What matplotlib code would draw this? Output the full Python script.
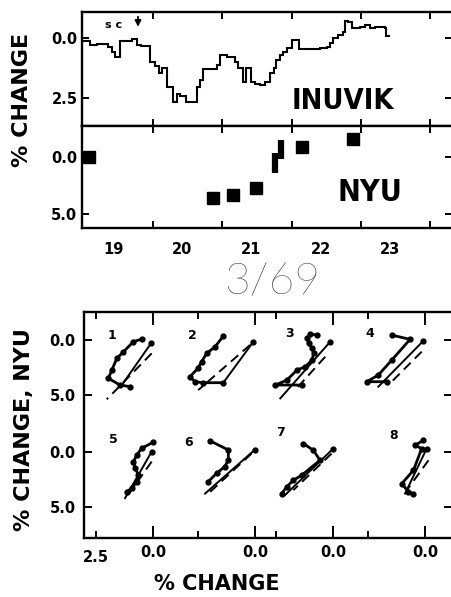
import numpy as np
import matplotlib.pyplot as plt
from matplotlib import font_manager as fm

# Inuvik neutron monitor, % change (decrease downward), step values between day edges
inuvik_edges = [18.97, 19.09, 19.18, 19.35, 19.41, 19.45, 19.52, 19.69, 19.76, 19.83,
                19.95, 20.03, 20.08, 20.12, 20.20, 20.29, 20.34, 20.39, 20.48, 20.63,
                20.67, 20.72, 20.92, 20.96, 21.06, 21.18, 21.23, 21.30, 21.34, 21.42,
                21.47, 21.54, 21.62, 21.69, 21.74, 21.78, 21.83, 21.88, 21.93, 22.01,
                22.11, 22.41, 22.51, 22.55, 22.60, 22.67, 22.75, 22.78, 22.82, 22.87,
                22.99, 23.06, 23.13, 23.21, 23.35, 23.37, 23.42]
inuvik_change = [0.12, 0.29, 0.26, 0.36, 0.57, 0.78, 0.12, 0.05, 0.29, 0.32,
                 1.00, 1.15, 1.47, 1.27, 2.03, 2.65, 2.35, 2.44, 2.65, 2.03,
                 1.75, 1.28, 1.12, 0.71, 0.78, 0.99, 1.26, 1.82, 1.26, 1.82,
                 1.93, 1.96, 1.82, 1.47, 1.26, 0.92, 0.71, 0.57, 0.40, 0.10,
                 0.46, 0.43, 0.36, 0.22, 0.01, -0.13, -0.26, -0.71, -0.65, -0.43,
                 -0.47, -0.54, -0.43, -0.47, -0.40, -0.10]

# NYU points
nyu_day = [19.07, 20.87, 21.15, 21.48, 22.15, 22.89]
nyu_change = [0.0, 3.6, 3.39, 2.74, -0.88, -1.56]
nyu_bar_day = [21.76, 21.85]
nyu_bar_lo = [-0.33, -1.5]
nyu_bar_hi = [1.39, 0.2]
day_names = ['19', '20', '21', '22', '23']

# lower panels: NYU vs Inuvik loops, one per interval (1..8)
loop_inuvik = [
    [0.50, 0.86, 1.30, 1.59, 1.81, 1.96, 1.45, 1.01],
    [1.39, 1.75, 2.12, 2.34, 2.51, 2.85, 2.63, 2.27, 1.39],
    [0.70, 0.99, 1.14, 1.07, 0.92, 0.85, 0.92, 1.21, 1.58, 2.02, 2.53, 1.36],
    [1.46, 0.66, 1.46, 2.05, 2.56, 1.68],
    [-0.01, 0.50, 0.71, 0.86, 0.79, 0.64, 0.71, 0.93, 1.15],
    [1.97, 1.17, 1.17, 1.32, 1.68, 2.05],
    [1.30, 0.86, 0.57, 1.37, 1.74, 2.03, 2.25],
    [0.07, 0.44, 0.15, 0.51, 1.02, 0.73, 0.51],
]
loop_nyu = [
    [-0.09, 0.15, 1.06, 1.67, 2.73, 3.48, 4.09, 4.24],
    [-0.36, 0.61, 1.21, 1.97, 2.58, 3.33, 3.79, 3.88, 3.88],
    [-0.45, -0.55, -0.15, 0.30, 0.76, 1.21, 1.82, 2.42, 2.73, 3.64, 4.09, 4.09],
    [-0.45, -0.06, 1.82, 3.18, 3.79, 3.79],
    [-0.91, -0.36, 0.24, 0.85, 1.45, 2.06, 2.67, 3.27, 3.58],
    [-1.03, -0.21, 0.70, 1.30, 1.91, 2.67],
    [-0.79, -0.18, 0.73, 2.09, 2.55, 3.15, 3.76],
    [-1.09, -0.64, -0.33, 1.64, 2.85, 3.61, 3.76],
]
fit_inuvik = [[0.09, 1.37], [0.07, 1.39], [0.12, 2.31], [0.07, 2.05],
              [0.06, 1.23], [0.0, 2.19], [-0.01, 2.11], [-0.07, 0.88]]
fit_nyu = [[0.30, 4.09], [0.15, 3.88], [0.15, 5.30], [0.06, 4.24],
           [-0.06, 4.18], [-0.24, 3.76], [-0.33, 3.91], [-0.33, 3.76]]
dash_inuvik = [[0.06, 2.03], [0.22, 2.49], [0.34, 1.60], [0.15, 1.54],
               [0.06, 1.10], [0.15, 1.97], [0.06, 1.74], [-0.15, 0.80]]
dash_nyu = [[1.21, 5.39], [0.45, 4.55], [1.52, 4.40], [1.06, 3.94],
            [0.85, 3.90], [0.12, 3.61], [0.12, 3.45], [0.73, 3.45]]
panel_names = ['1', '2', '3', '4', '5', '6', '7', '8']
name_inuvik = [1.8, 2.76, 1.89, 2.41, 1.75, 2.9, 2.3, 1.4]
name_nyu = [-0.45, -0.45, -0.6, -0.6, -1.2, -0.9, -1.8, -1.55]

W, H = 451, 597
fig = plt.figure(figsize=(W / 100, H / 100), dpi=100)
plt.rcParams['font.family'] = ['DejaVu Sans']
tick_font = dict(fontsize=10.5, fontweight='bold')

# a narrow bold face for the station names, if one is installed
big_font = fm.FontProperties(family='DejaVu Sans', weight='bold')
for f in fm.fontManager.ttflist:
    narrow = 'narrow' in f.name.lower() or 'condensed' in f.name.lower() or 'condensed' in str(f.stretch)
    if narrow and f.weight in (700, 'bold') and f.style == 'normal':
        big_font = fm.FontProperties(fname=f.fname)
        break


def box(l, t, r, b):
    return [l / W, 1 - b / H, (r - l) / W, (b - t) / H]


def frame(ax):
    for s in ['left', 'top', 'bottom']:
        ax.spines[s].set_linewidth(1.7)
    ax.spines['right'].set_visible(False)
    ax.tick_params(which='both', direction='in', top=True, right=True, width=1.4, colors='k')


def fit_width(t, width_px):
    r = fig.canvas.get_renderer()
    w = t.get_window_extent(r).width
    t.set_fontsize(t.get_fontsize() * width_px / w)


ax1 = fig.add_axes(box(82, 11.5, 452, 126))
ax2 = fig.add_axes(box(82, 126, 452, 228))
ax3 = fig.add_axes(box(84, 312, 452, 538))
for ax in (ax1, ax2, ax3):
    frame(ax)

# top: Inuvik
ax1.stairs(inuvik_change, inuvik_edges, color='k', lw=1.5, baseline=None)
ax1.set_xlim(18.97, 24.32)
ax1.set_ylim(3.67, -1.10)
ax1.set_xticks([20, 21, 22, 23, 24])
ax1.set_yticks([0, 2.5])
ax1.set_yticklabels(['0.0', '2.5'], **tick_font)
ax1.tick_params(length=5, labelbottom=False, pad=3)
t_inu = ax1.text(22.74, 2.63, 'INUVIK', fontproperties=big_font, fontsize=26,
                 ha='center', va='center')
fit_width(t_inu, 103)
ax1.text(19.42, -0.54, 's c', fontsize=8, fontweight='bold', ha='center', va='center')
ax1.annotate('', xy=(19.78, -0.35), xytext=(19.78, -1.0),
             arrowprops=dict(arrowstyle='-|>,head_width=0.18,head_length=0.35', color='k', lw=1.3))

# middle: NYU
ax2.plot(nyu_day, nyu_change, 's', color='k', ms=9)
ax2.vlines(nyu_bar_day, nyu_bar_lo, nyu_bar_hi, color='k', lw=4.5)
ax2.set_xlim(18.97, 24.32)
ax2.set_ylim(6.28, -2.74)
ax2.set_xticks([20, 21, 22, 23, 24])
ax2.set_xticklabels([])
ax2.set_xticks([int(d) + 0.42 for d in day_names], minor=True)
ax2.set_xticklabels(day_names, minor=True, **tick_font)
ax2.tick_params(which='major', length=5)
ax2.tick_params(which='minor', length=0, pad=10)
ax2.set_yticks([0, 5])
ax2.set_yticklabels(['0.0', '5.0'], **tick_font)
t_nyu = ax2.text(23.13, 3.1, 'NYU', fontproperties=big_font, fontsize=26,
                 ha='center', va='center')
fit_width(t_nyu, 65)

# bottom: loops, columns share the x axis, rows share the y axis
col_zero = [3.03, 7.5, 10.92, 14.96]
row_zero = [0.0, 10.2]
for i in range(8):
    cz = col_zero[i % 4]
    rz = row_zero[i // 4]
    lx = cz - np.array(loop_inuvik[i])
    ly = rz + np.array(loop_nyu[i])
    ax3.plot(lx, ly, '-o', color='k', lw=2.0, ms=3.5)
    fx = cz - np.array(fit_inuvik[i])
    fy = rz + np.array(fit_nyu[i])
    ax3.plot(fx, fy, color='k', lw=1.4)
    ax3.plot(fx[:1], fy[:1], 'o', color='k', ms=3.5)
    dx = cz - np.array(dash_inuvik[i])
    dy = rz + np.array(dash_nyu[i])
    ax3.plot(dx, dy, color='k', lw=1.4, dashes=(5, 3))
    ax3.text(cz - name_inuvik[i], rz + name_nyu[i], panel_names[i], fontsize=9,
             fontweight='bold', ha='center', va='center')

ax3.set_xlim(0, 16.14)
ax3.set_ylim(18.0, -2.55)
ax3.set_xticks(col_zero)
ax3.set_xticklabels(['0.0'] * 4, **tick_font)
ax3.set_xticks([c - 2.5 for c in col_zero], minor=True)
ax3.set_xticklabels(['2.5', '', '', ''], minor=True, **tick_font)
ax3.tick_params(which='major', length=9, pad=5)
ax3.tick_params(which='minor', length=5, pad=9)
ax3.set_yticks([row_zero[0], row_zero[0] + 5, row_zero[1], row_zero[1] + 5])
ax3.set_yticklabels(['0.0', '5.0', '0.0', '5.0'], **tick_font)
ax3.tick_params(axis='y', length=6, pad=6)

# labels
fig.text(22 / W, 1 - 100 / H, '% CHANGE', rotation=90, fontsize=16, fontweight='bold',
         ha='center', va='center')
fig.text(24 / W, 1 - 430 / H, '% CHANGE, NYU', rotation=90, fontsize=16, fontweight='bold',
         ha='center', va='center')
fig.text(217 / W, 1 - 584 / H, '% CHANGE', fontsize=15, fontweight='bold',
         ha='center', va='center')
fig.text(272 / W, 1 - 283 / H, '3/69', fontsize=32, fontweight='light',
         family=['Lato', 'DejaVu Sans'], ha='center', va='center')

fig.savefig('out.png', dpi=100)
